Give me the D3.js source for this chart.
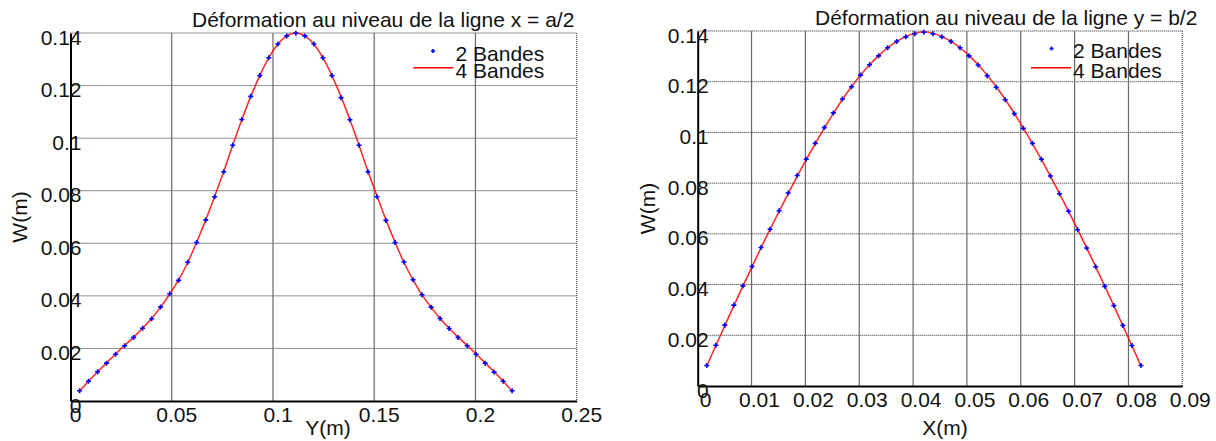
<!DOCTYPE html>
<html>
<head>
<meta charset="utf-8">
<script src="https://cdn.jsdelivr.net/npm/d3@7"></script>
<style>
  body { margin: 0; background: #fff; }
  svg { display: block; font-family: "Liberation Sans", Arial, sans-serif; }
  .lbl { font-size: 21px; fill: #111; }
</style>
</head>
<body>
<svg id="fig" width="1216" height="441"></svg>
<script>
//DATA
const yTicks = [0, 0.02, 0.04, 0.06, 0.08, 0.1, 0.12, 0.14];
const leftXTicks = [0, 0.05, 0.1, 0.15, 0.2, 0.25];
const rightXTicks = [0, 0.01, 0.02, 0.03, 0.04, 0.05, 0.06, 0.07, 0.08, 0.09];
const SERIES = ["2 Bandes", "4 Bandes"];

// line x = a/2, abscissa Y(m)
const leftX = [
  0.0045, 0.0089, 0.0134, 0.0178, 0.0223, 0.0267, 0.0312, 0.0356, 0.0401, 0.0445,
  0.049, 0.0534, 0.0579, 0.0623, 0.0668, 0.0712, 0.0757, 0.0801, 0.0846, 0.089,
  0.0935, 0.0979, 0.1024, 0.1068, 0.1113, 0.1158, 0.1202, 0.1247, 0.1291, 0.1336,
  0.138, 0.1425, 0.1469, 0.1514, 0.1558, 0.1603, 0.1647, 0.1692, 0.1736, 0.1781,
  0.1825, 0.187, 0.1914, 0.1959, 0.2003, 0.2048, 0.2092, 0.2137, 0.2181,
];
const leftW2 = [
  0.0039, 0.0075, 0.0111, 0.0144, 0.0178, 0.021, 0.0242, 0.0277, 0.0313, 0.0358,
  0.0408, 0.0459, 0.0528, 0.0603, 0.0689, 0.0777, 0.0872, 0.0973, 0.1071, 0.1159,
  0.1238, 0.1306, 0.1358, 0.1389, 0.1399, 0.1389, 0.1358, 0.1306, 0.1238, 0.1154,
  0.107, 0.0973, 0.0872, 0.0777, 0.0687, 0.0603, 0.0529, 0.0461, 0.0404, 0.0357,
  0.0314, 0.0276, 0.0242, 0.021, 0.0178, 0.0144, 0.011, 0.0075, 0.0039,
];
const leftW4 = [
  0.0038, 0.0075, 0.0111, 0.0145, 0.0179, 0.0211, 0.0243, 0.0277, 0.0314, 0.0357,
  0.0407, 0.0461, 0.0527, 0.0604, 0.0689, 0.0779, 0.0874, 0.0973, 0.107, 0.1158,
  0.1238, 0.1305, 0.1357, 0.1389, 0.14, 0.1389, 0.1357, 0.1305, 0.1238, 0.1158,
  0.107, 0.0973, 0.0874, 0.0779, 0.0689, 0.0604, 0.0527, 0.0461, 0.0404, 0.0357,
  0.0314, 0.0277, 0.0243, 0.0211, 0.0179, 0.0145, 0.0111, 0.0075, 0.0038,
];

// line y = b/2, abscissa X(m)
const rightX = [
  0.00168, 0.00336, 0.00504, 0.00672, 0.0084, 0.01008, 0.01176, 0.01344, 0.01512, 0.0168,
  0.01848, 0.02016, 0.02184, 0.02352, 0.0252, 0.02688, 0.02856, 0.03024, 0.03192, 0.0336,
  0.03528, 0.03696, 0.03864, 0.04032, 0.042, 0.04368, 0.04536, 0.04704, 0.04872, 0.0504,
  0.05208, 0.05376, 0.05544, 0.05712, 0.0588, 0.06048, 0.06216, 0.06384, 0.06552, 0.0672,
  0.06888, 0.07056, 0.07224, 0.07392, 0.0756, 0.07728, 0.07896, 0.08064, 0.08232,
];
const rightW2 = [
  0.0081, 0.0161, 0.024, 0.0319, 0.0395, 0.0471, 0.0546, 0.0618, 0.0691, 0.0761,
  0.083, 0.0894, 0.0957, 0.1019, 0.1077, 0.1132, 0.118, 0.1226, 0.1267, 0.1302,
  0.1334, 0.1359, 0.1377, 0.1389, 0.1395, 0.1389, 0.1377, 0.1359, 0.1334, 0.1302,
  0.1266, 0.1224, 0.1178, 0.1129, 0.1074, 0.1016, 0.0957, 0.0894, 0.0828, 0.0758,
  0.0689, 0.0616, 0.0544, 0.047, 0.0393, 0.0317, 0.0239, 0.016, 0.0081,
];
const rightW4 = [
  0.0079, 0.0159, 0.0238, 0.0317, 0.0394, 0.047, 0.0545, 0.0618, 0.0689, 0.0759,
  0.0827, 0.0893, 0.0956, 0.1017, 0.1075, 0.113, 0.118, 0.1226, 0.1267, 0.1303,
  0.1334, 0.1359, 0.1378, 0.1391, 0.1397, 0.1391, 0.1378, 0.1359, 0.1334, 0.1303,
  0.1267, 0.1226, 0.118, 0.113, 0.1075, 0.1017, 0.0956, 0.0893, 0.0827, 0.0759,
  0.0689, 0.0618, 0.0545, 0.047, 0.0394, 0.0317, 0.0238, 0.0159, 0.0079,
];

const charts = [
  {
    title: "Déformation au niveau de la ligne x = a/2",
    xLabel: "Y(m)",
    xs: leftX, w2: leftW2, w4: leftW4, xTicks: leftXTicks,
    box: { left: 70.5, right: 576.7, top: 33, bottom: 401 },
    titleX: 192, titleY: 27, xLabelX: 328, yLabelX: 27, xTickDx: 4.5,
    legend: { markX: 433, markY: 51, textX: 455.5, row1: 61, row2: 78.3, lineY: 67.7 },
  },
  {
    title: "Déformation au niveau de la ligne y = b/2",
    xLabel: "X(m)",
    xs: rightX, w2: rightW2, w4: rightW4, xTicks: rightXTicks,
    box: { left: 697.7, right: 1182.3, top: 31, bottom: 386 },
    titleX: 815, titleY: 25, xLabelX: 945, yLabelX: 655, xTickDx: 7.5,
    legend: { markX: 1051.5, markY: 48.5, textX: 1073, row1: 58.3, row2: 78.3, lineY: 67.7 },
  },
];

const svg = d3.select("#fig");
svg.append("rect").attr("width", 1216).attr("height", 441).attr("fill", "#fff");

function plusMarker(g, x, y, s) {
  g.append("path")
    .attr("d", `M${x - s},${y}H${x + s}M${x},${y - s}V${y + s}`)
    .attr("stroke", "#0000ff")
    .attr("stroke-width", 1.6)
    .attr("fill", "none");
}

function drawChart(cfg) {
  const b = cfg.box;
  const x = d3.scaleLinear().domain(d3.extent(cfg.xTicks)).range([b.left, b.right]);
  const y = d3.scaleLinear().domain(d3.extent(yTicks)).range([b.bottom, b.top]);
  const g = svg.append("g");

  // grid : horizontal dotted, vertical grey
  g.selectAll(".hgrid")
    .data(yTicks.slice(1))
    .join("line")
    .attr("x1", b.left)
    .attr("x2", b.right)
    .attr("y1", (d) => y(d))
    .attr("y2", (d) => y(d))
    .attr("stroke", "#222")
    .attr("stroke-width", 1)
    .attr("stroke-dasharray", "1,1");
  g.selectAll(".vgrid")
    .data(cfg.xTicks.slice(1))
    .join("line")
    .attr("x1", (d) => x(d))
    .attr("x2", (d) => x(d))
    .attr("y1", b.top)
    .attr("y2", b.bottom)
    .attr("stroke", (d, i, n) => (i === n.length - 1 ? "#444" : "#6a6a6a"))
    .attr("stroke-width", 1.2)
    .attr("stroke-dasharray", (d, i, n) => (i === n.length - 1 ? "1,1" : null));

  // axes
  const xAxis = g.append("g")
    .attr("transform", `translate(0,${b.bottom})`)
    .call(d3.axisBottom(x).tickValues(cfg.xTicks).tickSize(0).tickSizeOuter(0).tickFormat(d3.format("")));
  xAxis.selectAll("text")
    .attr("class", "lbl")
    .attr("font-size", null)
    .attr("font-family", null)
    .attr("y", 20.5)
    .attr("dy", null)
    .attr("x", cfg.xTickDx);
  const yAxis = g.append("g")
    .attr("transform", `translate(${b.left},0)`)
    .call(d3.axisLeft(y).tickValues(yTicks).tickSize(0).tickSizeOuter(0).tickFormat(d3.format("")));
  yAxis.selectAll("text")
    .attr("class", "lbl")
    .attr("x", 11)
    .attr("y", 11)
    .attr("dy", null);
  g.selectAll(".domain").attr("stroke", "#000").attr("stroke-width", 2);
  xAxis.attr("font-size", null).attr("font-family", null);
  yAxis.attr("font-size", null).attr("font-family", null);

  // curves
  const pts2 = cfg.xs.map((v, i) => [v, cfg.w2[i]]);
  const pts4 = cfg.xs.map((v, i) => [v, cfg.w4[i]]);
  const line = d3.line()
    .x((d) => x(d[0]))
    .y((d) => y(d[1]))
    .curve(d3.curveMonotoneX);
  g.append("path")
    .datum(pts4)
    .attr("d", line)
    .attr("fill", "none")
    .attr("stroke", "#ff0000")
    .attr("stroke-width", 1.5)
    .attr("stroke-opacity", 0.85);
  const marks = g.append("g");
  pts2.forEach((d) => plusMarker(marks, x(d[0]), y(d[1]), 2.5));

  // texts
  g.append("text").attr("class", "lbl").attr("x", cfg.titleX).attr("y", cfg.titleY).text(cfg.title);
  g.append("text")
    .attr("class", "lbl")
    .attr("x", cfg.xLabelX)
    .attr("y", 435)
    .attr("text-anchor", "middle")
    .text(cfg.xLabel);
  g.append("text")
    .attr("class", "lbl")
    .attr("transform", `translate(${cfg.yLabelX},${(b.top + b.bottom) / 2}) rotate(-90)`)
    .attr("text-anchor", "middle")
    .text("W(m)");

  // legend
  const lg = cfg.legend;
  plusMarker(g, lg.markX, lg.markY, 2);
  g.append("text").attr("class", "lbl").attr("x", lg.textX).attr("y", lg.row1).text(SERIES[0]);
  g.append("line")
    .attr("x1", lg.textX - 42)
    .attr("x2", lg.textX - 2)
    .attr("y1", lg.lineY)
    .attr("y2", lg.lineY)
    .attr("stroke", "#ff0000")
    .attr("stroke-width", 1.5);
  g.append("text").attr("class", "lbl").attr("x", lg.textX).attr("y", lg.row2).text(SERIES[1]);
}

charts.forEach(drawChart);
</script>
</body>
</html>
